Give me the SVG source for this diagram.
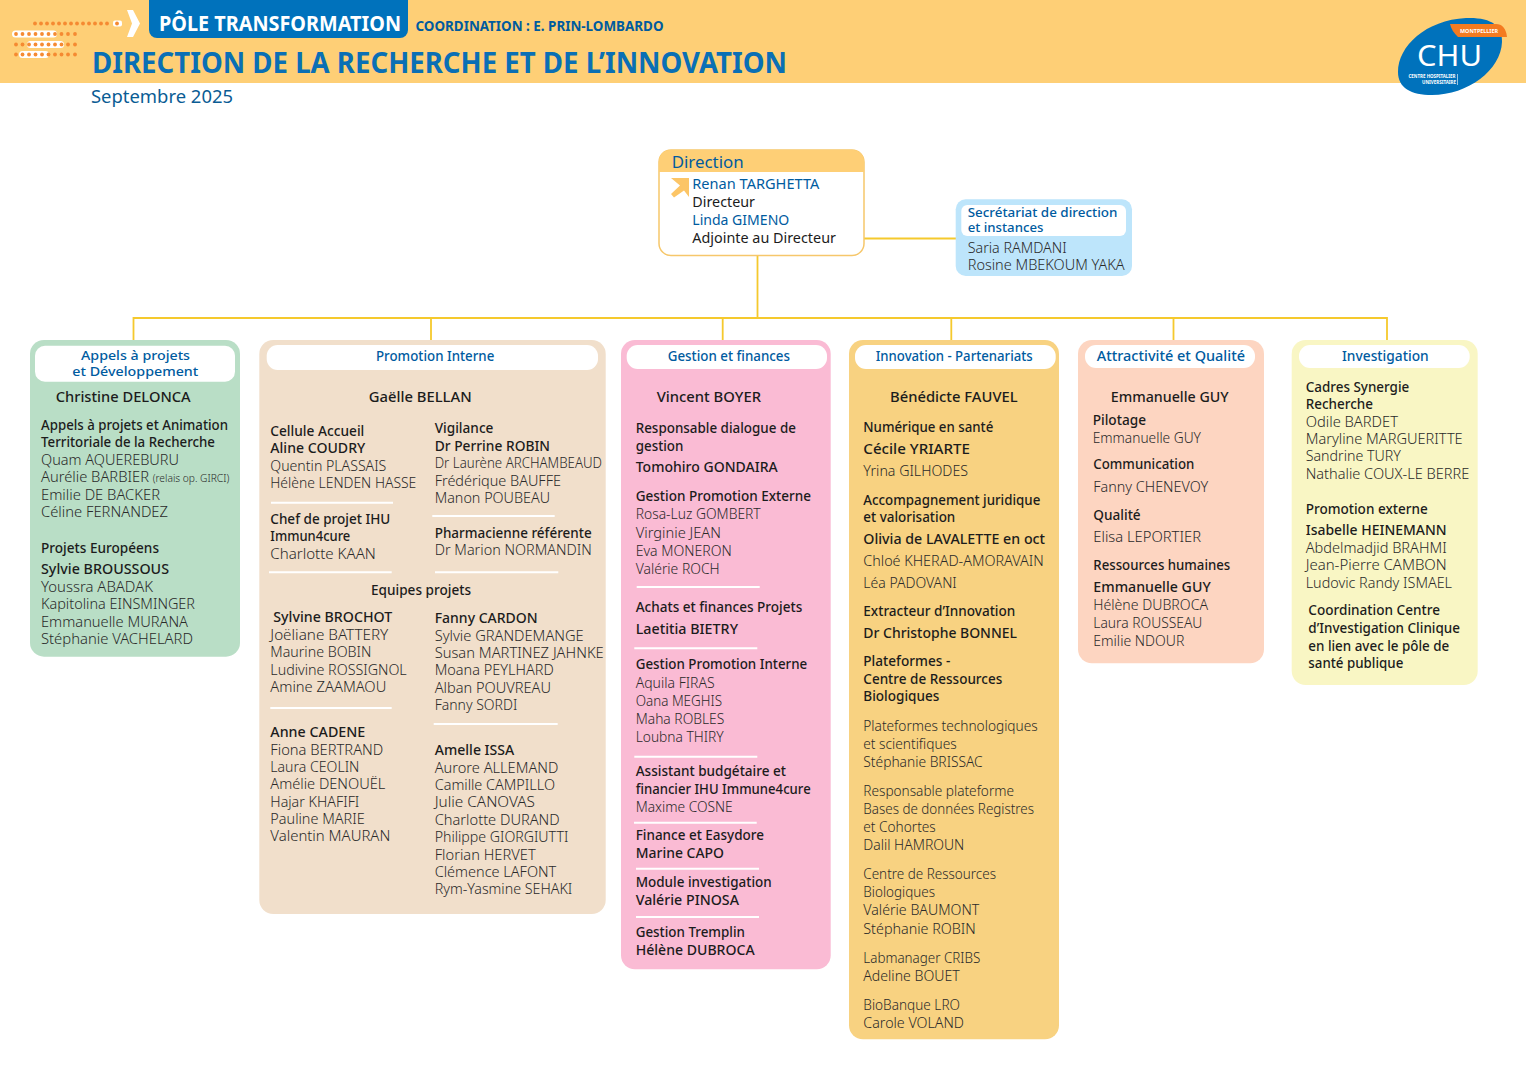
<svg xmlns="http://www.w3.org/2000/svg" width="1526" height="1080" viewBox="0 0 1526 1080">
<style>
text{font-family:"Noto Sans","Open Sans","Liberation Sans",sans-serif;font-size:14.5px;fill:#2a2a2a;font-weight:300}
.b{font-weight:500;fill:#1c1c1c}
.h{font-weight:500;fill:#005b9f}
.k{fill:#1c1c1c;font-weight:400}
.u{fill:#005b9f;font-weight:400}
.t{font-size:13.4px}
.sep{stroke:#fff;stroke-width:2;fill:none}
.cn{stroke:#f5c92d;stroke-width:1.800;fill:none}
.head{fill:#fff}
</style>
<g id="banner">
<rect x="0" y="0" width="1526" height="83" fill="#fecf76"/>
<path d="M149 0H408V30a8 8 0 0 1-8 8H157a8 8 0 0 1-8-8Z" fill="#0072bc"/>
<text x="159" y="31" textLength="242" lengthAdjust="spacingAndGlyphs" style="font-size:21px;font-weight:700;fill:#fff">PÔLE TRANSFORMATION</text>
<text x="415.500" y="31" textLength="248" lengthAdjust="spacingAndGlyphs" style="font-size:14.500px;font-weight:700;fill:#005b9f">COORDINATION : E. PRIN-LOMBARDO</text>
<text x="92" y="72.500" textLength="695" lengthAdjust="spacingAndGlyphs" style="font-size:28px;font-weight:700;fill:#0a6fb5">DIRECTION DE LA RECHERCHE ET DE L’INNOVATION</text>
<text x="91" y="103.300" textLength="142" lengthAdjust="spacingAndGlyphs" style="font-size:18px;font-weight:400;fill:#0a5c94">Septembre 2025</text>
<g fill="#fff"><rect x="12" y="30.500" width="45" height="7" rx="3.500"/><rect x="27" y="41" width="37" height="7" rx="3.500"/><rect x="19" y="51" width="30" height="7" rx="3.500"/><rect x="113" y="20.500" width="9" height="6" rx="2"/></g>
<path d="M127 10L133 10L140 23.500L133 37L127 37L132 23.500Z" fill="#fff"/>
<g fill="#f58a32">
<circle cx="35" cy="23.500" r="1.900"/><circle cx="41" cy="23.500" r="1.900"/><circle cx="47" cy="23.500" r="1.900"/><circle cx="53" cy="23.500" r="1.900"/><circle cx="59" cy="23.500" r="1.900"/><circle cx="65" cy="23.500" r="1.900"/><circle cx="71" cy="23.500" r="1.900"/><circle cx="77" cy="23.500" r="1.900"/><circle cx="83" cy="23.500" r="1.900"/><circle cx="89" cy="23.500" r="1.900"/><circle cx="95" cy="23.500" r="1.900"/><circle cx="101" cy="23.500" r="1.900"/><circle cx="107" cy="23.500" r="1.900"/><circle cx="117" cy="23.500" r="1.900"/>
<circle cx="16" cy="34" r="1.900"/><circle cx="22.500" cy="34" r="1.900"/><circle cx="29" cy="34" r="1.900"/><circle cx="35.500" cy="34" r="1.900"/><circle cx="42" cy="34" r="1.900"/><circle cx="48.500" cy="34" r="1.900"/><circle cx="55" cy="34" r="1.900"/><circle cx="61.500" cy="34" r="1.900"/><circle cx="68" cy="34" r="1.900"/><circle cx="75" cy="34" r="1.900"/>
<circle cx="16" cy="44.500" r="1.900"/><circle cx="22.500" cy="44.500" r="1.900"/><circle cx="29" cy="44.500" r="1.900"/><circle cx="35.500" cy="44.500" r="1.900"/><circle cx="42" cy="44.500" r="1.900"/><circle cx="48.500" cy="44.500" r="1.900"/><circle cx="55" cy="44.500" r="1.900"/><circle cx="61.500" cy="44.500" r="1.900"/><circle cx="68" cy="44.500" r="1.900"/><circle cx="75" cy="44.500" r="1.900"/>
<circle cx="16" cy="54.500" r="1.900"/><circle cx="22.500" cy="54.500" r="1.900"/><circle cx="29" cy="54.500" r="1.900"/><circle cx="35.500" cy="54.500" r="1.900"/><circle cx="42" cy="54.500" r="1.900"/><circle cx="48.500" cy="54.500" r="1.900"/><circle cx="55" cy="54.500" r="1.900"/><circle cx="61.500" cy="54.500" r="1.900"/><circle cx="68" cy="54.500" r="1.900"/><circle cx="75" cy="54.500" r="1.900"/>
</g>
</g>
<g id="logo">
<path d="M1398 72C1398 46 1426 20 1466 18C1490 17 1503 25 1502 42C1501 70 1468 95 1432 95C1411 95 1398 88 1398 72Z" fill="#0072bc"/>
<path d="M1450 24H1496C1502 24 1506 28 1507 37H1458C1454 33 1451 29 1450 24Z" fill="#f47b20"/>
<text x="1460" y="33" textLength="38" lengthAdjust="spacingAndGlyphs" style="font-size:5.500px;font-weight:700;fill:#fff">MONTPELLIER</text>
<text x="1417" y="66" textLength="65" lengthAdjust="spacingAndGlyphs" style="font-size:29px;font-weight:400;fill:#fff">CHU</text>
<text x="1408.500" y="78" textLength="47" lengthAdjust="spacingAndGlyphs" style="font-size:5.500px;font-weight:700;fill:#fff">CENTRE HOSPITALIER</text>
<text x="1422" y="84" textLength="34" lengthAdjust="spacingAndGlyphs" style="font-size:5.500px;font-weight:700;fill:#fff">UNIVERSITAIRE</text>
<path d="M1457.500 74V85" stroke="#fff" stroke-width=".6"/>
</g>
<g id="connectors">
<path class="cn" d="M864 238.500H956"/>
<path class="cn" d="M757.500 256V318"/>
<path class="cn" d="M133.500 340V318H1387V340"/>
<path class="cn" d="M431 318V340M722.700 318V340M951.300 318V340M1173.500 318V340"/>
</g>
<g id="direction">
<rect x="659" y="150" width="205" height="105.500" rx="12" fill="#fff" stroke="#f6c76b" stroke-width="1.500"/>
<path d="M659 172V161a11 11 0 0 1 11-11H853a11 11 0 0 1 11 11V172Z" fill="#fecf76"/>
<path d="M671 178H689V197L684 190.500L674 197.500L671 194L680 185.500Z" fill="#fcc566"/>
<text class="u" x="671.700" y="168" textLength="72" lengthAdjust="spacingAndGlyphs" style="font-size:17px">Direction</text>
<text class="u" x="692.300" y="189" textLength="127" lengthAdjust="spacingAndGlyphs">Renan TARGHETTA</text>
<text class="k" x="692.300" y="207.300" textLength="62.700" lengthAdjust="spacingAndGlyphs">Directeur</text>
<text class="u" x="692.300" y="224.700" textLength="97" lengthAdjust="spacingAndGlyphs">Linda GIMENO</text>
<text class="k" x="692.300" y="243" textLength="143.700" lengthAdjust="spacingAndGlyphs">Adjointe au Directeur</text>
</g>
<g id="secretariat">
<rect x="955.700" y="199.300" width="176.300" height="76.700" rx="10" fill="#bde5fb"/>
<rect class="head" x="961.300" y="205" width="164.700" height="31" rx="6"/>
<text class="h t" x="967.700" y="217.300" textLength="149.700" lengthAdjust="spacingAndGlyphs" style="font-size:12.600px">Secrétariat de direction</text>
<text class="h t" x="967.700" y="231.700" textLength="75.700" lengthAdjust="spacingAndGlyphs" style="font-size:12.600px">et instances</text>
<text x="967.700" y="252.700" textLength="99" lengthAdjust="spacingAndGlyphs">Saria RAMDANI</text>
<text x="967.700" y="270" textLength="157" lengthAdjust="spacingAndGlyphs">Rosine MBEKOUM YAKA</text>
</g>
<g id="appels">
<rect x="30" y="340" width="210" height="316.700" rx="14" fill="#b9dec6"/>
<rect class="head" x="35" y="345.700" width="200" height="36" rx="10"/>
<text class="h t" x="81" y="360" textLength="109" lengthAdjust="spacingAndGlyphs">Appels à projets</text>
<text class="h t" x="72.300" y="376" textLength="126" lengthAdjust="spacingAndGlyphs">et Développement</text>
<text class="b" x="55.700" y="401.700" textLength="135" lengthAdjust="spacingAndGlyphs">Christine DELONCA</text>
<text class="b" x="41" y="430" textLength="187" lengthAdjust="spacingAndGlyphs">Appels à projets et Animation</text>
<text class="b" x="41" y="447" textLength="174" lengthAdjust="spacingAndGlyphs">Territoriale de la Recherche</text>
<text x="41" y="465" textLength="138" lengthAdjust="spacingAndGlyphs">Quam AQUEREBURU</text>
<text x="41" y="482" textLength="108" lengthAdjust="spacingAndGlyphs">Aurélie BARBIER</text>
<text x="152.700" y="482" textLength="76.600" lengthAdjust="spacingAndGlyphs" style="font-size:11px">(relais op. GIRCI)</text>
<text x="41" y="500" textLength="119" lengthAdjust="spacingAndGlyphs">Emilie DE BACKER</text>
<text x="41" y="517" textLength="127" lengthAdjust="spacingAndGlyphs">Céline FERNANDEZ</text>
<text class="b" x="41" y="553" textLength="118" lengthAdjust="spacingAndGlyphs">Projets Européens</text>
<text class="b" x="41" y="574" textLength="128" lengthAdjust="spacingAndGlyphs">Sylvie BROUSSOUS</text>
<text x="41" y="592" textLength="112" lengthAdjust="spacingAndGlyphs">Youssra ABADAK</text>
<text x="41" y="609" textLength="154" lengthAdjust="spacingAndGlyphs">Kapitolina EINSMINGER</text>
<text x="41" y="627" textLength="147" lengthAdjust="spacingAndGlyphs">Emmanuelle MURANA</text>
<text x="41" y="644" textLength="152" lengthAdjust="spacingAndGlyphs">Stéphanie VACHELARD</text>
</g>
<g id="promotion-interne">
<rect x="259.300" y="340" width="346.400" height="574" rx="14" fill="#f1dfcb"/>
<rect class="head" x="266.700" y="345" width="331.300" height="25" rx="11"/>
<text class="h" x="376" y="361" textLength="118.300" lengthAdjust="spacingAndGlyphs">Promotion Interne</text>
<text class="b" x="368.700" y="402.300" textLength="103" lengthAdjust="spacingAndGlyphs">Gaëlle BELLAN</text>
<text class="b" x="270.300" y="436" textLength="94" lengthAdjust="spacingAndGlyphs">Cellule Accueil</text>
<text class="b" x="270.300" y="453.300" textLength="95" lengthAdjust="spacingAndGlyphs">Aline COUDRY</text>
<text x="270.300" y="471" textLength="116" lengthAdjust="spacingAndGlyphs">Quentin PLASSAIS</text>
<text x="270.300" y="488.300" textLength="146" lengthAdjust="spacingAndGlyphs">Hélène LENDEN HASSE</text>
<path class="sep" d="M271 502.700H393"/>
<text class="b" x="270.300" y="524" textLength="120" lengthAdjust="spacingAndGlyphs">Chef de projet IHU</text>
<text class="b" x="270.300" y="541" textLength="80" lengthAdjust="spacingAndGlyphs">Immun4cure</text>
<text x="270.300" y="559" textLength="105.500" lengthAdjust="spacingAndGlyphs">Charlotte KAAN</text>
<path class="sep" d="M269 572.300H391.700"/>
<text class="b" x="371" y="595.300" textLength="100" lengthAdjust="spacingAndGlyphs">Equipes projets</text>
<text class="b" x="273.300" y="622.300" textLength="119" lengthAdjust="spacingAndGlyphs">Sylvine BROCHOT</text>
<text x="270.300" y="640" textLength="118" lengthAdjust="spacingAndGlyphs">Joëliane BATTERY</text>
<text x="270.300" y="657.300" textLength="101" lengthAdjust="spacingAndGlyphs">Maurine BOBIN</text>
<text x="270.300" y="674.700" textLength="136.400" lengthAdjust="spacingAndGlyphs">Ludivine ROSSIGNOL</text>
<text x="270.300" y="692" textLength="116" lengthAdjust="spacingAndGlyphs">Amine ZAAMAOU</text>
<path class="sep" d="M270.300 708H391.700"/>
<text class="b" x="270.300" y="737" textLength="95" lengthAdjust="spacingAndGlyphs">Anne CADENE</text>
<text x="270.300" y="754.700" textLength="113" lengthAdjust="spacingAndGlyphs">Fiona BERTRAND</text>
<text x="270.300" y="772" textLength="89" lengthAdjust="spacingAndGlyphs">Laura CEOLIN</text>
<text x="270.300" y="789.300" textLength="115" lengthAdjust="spacingAndGlyphs">Amélie DENOUËL</text>
<text x="270.300" y="806.700" textLength="89" lengthAdjust="spacingAndGlyphs">Hajar KHAFIFI</text>
<text x="270.300" y="824" textLength="94.400" lengthAdjust="spacingAndGlyphs">Pauline MARIE</text>
<text x="270.300" y="841.300" textLength="120" lengthAdjust="spacingAndGlyphs">Valentin MAURAN</text>
<text class="b" x="434.700" y="432.700" textLength="58.700" lengthAdjust="spacingAndGlyphs">Vigilance</text>
<text class="b" x="434.700" y="450.700" textLength="115.300" lengthAdjust="spacingAndGlyphs">Dr Perrine ROBIN</text>
<text x="434.700" y="468.300" textLength="167.300" lengthAdjust="spacingAndGlyphs">Dr Laurène ARCHAMBEAUD</text>
<text x="434.700" y="485.700" textLength="126.300" lengthAdjust="spacingAndGlyphs">Frédérique BAUFFE</text>
<text x="434.700" y="503" textLength="115.300" lengthAdjust="spacingAndGlyphs">Manon POUBEAU</text>
<path class="sep" d="M432.300 516H554.700"/>
<text class="b" x="434.700" y="538" textLength="157" lengthAdjust="spacingAndGlyphs">Pharmacienne référente</text>
<text x="434.700" y="555.300" textLength="157" lengthAdjust="spacingAndGlyphs">Dr Marion NORMANDIN</text>
<path class="sep" d="M435 572.300H558.300"/>
<text class="b" x="434.700" y="623" textLength="103" lengthAdjust="spacingAndGlyphs">Fanny CARDON</text>
<text x="434.700" y="640.700" textLength="149" lengthAdjust="spacingAndGlyphs">Sylvie GRANDEMANGE</text>
<text x="434.700" y="658" textLength="169" lengthAdjust="spacingAndGlyphs">Susan MARTINEZ JAHNKE</text>
<text x="434.700" y="675.300" textLength="119" lengthAdjust="spacingAndGlyphs">Moana PEYLHARD</text>
<text x="434.700" y="692.700" textLength="116.300" lengthAdjust="spacingAndGlyphs">Alban POUVREAU</text>
<text x="434.700" y="710.300" textLength="82.600" lengthAdjust="spacingAndGlyphs">Fanny SORDI</text>
<path class="sep" d="M433.700 724H557.700"/>
<text class="b" x="434.700" y="755.300" textLength="79.600" lengthAdjust="spacingAndGlyphs">Amelle ISSA</text>
<text x="434.700" y="772.700" textLength="123.600" lengthAdjust="spacingAndGlyphs">Aurore ALLEMAND</text>
<text x="434.700" y="790" textLength="120.300" lengthAdjust="spacingAndGlyphs">Camille CAMPILLO</text>
<text x="434.700" y="807.300" textLength="100.300" lengthAdjust="spacingAndGlyphs">Julie CANOVAS</text>
<text x="434.700" y="825" textLength="125" lengthAdjust="spacingAndGlyphs">Charlotte DURAND</text>
<text x="434.700" y="842.300" textLength="133.600" lengthAdjust="spacingAndGlyphs">Philippe GIORGIUTTI</text>
<text x="434.700" y="859.700" textLength="101" lengthAdjust="spacingAndGlyphs">Florian HERVET</text>
<text x="434.700" y="877" textLength="121.600" lengthAdjust="spacingAndGlyphs">Clémence LAFONT</text>
<text x="434.700" y="894.300" textLength="137.600" lengthAdjust="spacingAndGlyphs">Rym-Yasmine SEHAKI</text>
</g>
<g id="gestion-finances">
<rect x="621" y="340" width="209.700" height="629.300" rx="14" fill="#fabbd4"/>
<rect class="head" x="626.700" y="345" width="200.300" height="24" rx="11"/>
<text class="h" x="667.700" y="361" textLength="122.300" lengthAdjust="spacingAndGlyphs">Gestion et finances</text>
<text class="b" x="656.700" y="402.300" textLength="104.300" lengthAdjust="spacingAndGlyphs">Vincent BOYER</text>
<text class="b" x="635.700" y="433.300" textLength="160.300" lengthAdjust="spacingAndGlyphs">Responsable dialogue de</text>
<text class="b" x="635.700" y="450.700" textLength="47.700" lengthAdjust="spacingAndGlyphs">gestion</text>
<text class="b" x="635.700" y="472.300" textLength="142" lengthAdjust="spacingAndGlyphs">Tomohiro GONDAIRA</text>
<text class="b" x="635.700" y="501.300" textLength="175.300" lengthAdjust="spacingAndGlyphs">Gestion Promotion Externe</text>
<text x="635.700" y="519.300" textLength="125" lengthAdjust="spacingAndGlyphs">Rosa-Luz GOMBERT</text>
<text x="635.700" y="537.700" textLength="85.300" lengthAdjust="spacingAndGlyphs">Virginie JEAN</text>
<text x="635.700" y="556" textLength="96" lengthAdjust="spacingAndGlyphs">Eva MONERON</text>
<text x="635.700" y="574" textLength="84" lengthAdjust="spacingAndGlyphs">Valérie ROCH</text>
<path class="sep" d="M636.700 587H759.700"/>
<text class="b" x="635.700" y="611.700" textLength="166.600" lengthAdjust="spacingAndGlyphs">Achats et finances Projets</text>
<text class="b" x="635.700" y="633.700" textLength="102.300" lengthAdjust="spacingAndGlyphs">Laetitia BIETRY</text>
<path class="sep" d="M634.300 648.300H757.300"/>
<text class="b" x="635.700" y="669" textLength="171.600" lengthAdjust="spacingAndGlyphs">Gestion Promotion Interne</text>
<text x="635.700" y="687.700" textLength="79" lengthAdjust="spacingAndGlyphs">Aquila FIRAS</text>
<text x="635.700" y="705.700" textLength="86.300" lengthAdjust="spacingAndGlyphs">Oana MEGHIS</text>
<text x="635.700" y="724" textLength="88.600" lengthAdjust="spacingAndGlyphs">Maha ROBLES</text>
<text x="635.700" y="742.300" textLength="88" lengthAdjust="spacingAndGlyphs">Loubna THIRY</text>
<path class="sep" d="M634.300 756.700H757.300"/>
<text class="b" x="635.700" y="776" textLength="150.300" lengthAdjust="spacingAndGlyphs">Assistant budgétaire et</text>
<text class="b" x="635.700" y="793.700" textLength="175" lengthAdjust="spacingAndGlyphs">financier IHU Immune4cure</text>
<text x="635.700" y="812" textLength="97" lengthAdjust="spacingAndGlyphs">Maxime COSNE</text>
<path class="sep" d="M634 822.700H756.700"/>
<text class="b" x="635.700" y="840.300" textLength="128.300" lengthAdjust="spacingAndGlyphs">Finance et Easydore</text>
<text class="b" x="635.700" y="858" textLength="88.300" lengthAdjust="spacingAndGlyphs">Marine CAPO</text>
<path class="sep" d="M636 868.700H759"/>
<text class="b" x="635.700" y="886.700" textLength="136" lengthAdjust="spacingAndGlyphs">Module investigation</text>
<text class="b" x="635.700" y="905" textLength="103.300" lengthAdjust="spacingAndGlyphs">Valérie PINOSA</text>
<path class="sep" d="M636 917H759"/>
<text class="b" x="635.700" y="937.300" textLength="109.300" lengthAdjust="spacingAndGlyphs">Gestion Tremplin</text>
<text class="b" x="635.700" y="955.300" textLength="119" lengthAdjust="spacingAndGlyphs">Hélène DUBROCA</text>
</g>
<g id="innovation">
<rect x="849" y="340" width="210" height="699.300" rx="14" fill="#f8d281"/>
<rect class="head" x="855" y="345" width="200.700" height="24" rx="11"/>
<text class="h" x="875.700" y="361" textLength="157" lengthAdjust="spacingAndGlyphs">Innovation - Partenariats</text>
<text class="b" x="890" y="402.300" textLength="127.700" lengthAdjust="spacingAndGlyphs">Bénédicte FAUVEL</text>
<text class="b" x="863.300" y="432.300" textLength="130" lengthAdjust="spacingAndGlyphs">Numérique en santé</text>
<text class="b" x="863.300" y="454.300" textLength="106.700" lengthAdjust="spacingAndGlyphs">Cécile YRIARTE</text>
<text x="863.300" y="476" textLength="104.700" lengthAdjust="spacingAndGlyphs">Yrina GILHODES</text>
<text class="b" x="863.300" y="505" textLength="177" lengthAdjust="spacingAndGlyphs">Accompagnement juridique</text>
<text class="b" x="863.300" y="522" textLength="92" lengthAdjust="spacingAndGlyphs">et valorisation</text>
<text class="b" x="863.300" y="544" textLength="181.700" lengthAdjust="spacingAndGlyphs">Olivia de LAVALETTE en oct</text>
<text x="863.300" y="565.700" textLength="180.400" lengthAdjust="spacingAndGlyphs">Chloé KHERAD-AMORAVAIN</text>
<text x="863.300" y="587.700" textLength="93.400" lengthAdjust="spacingAndGlyphs">Léa PADOVANI</text>
<text class="b" x="863.300" y="616.300" textLength="152" lengthAdjust="spacingAndGlyphs">Extracteur d’Innovation</text>
<text class="b" x="863.300" y="638" textLength="153.700" lengthAdjust="spacingAndGlyphs">Dr Christophe BONNEL</text>
<text class="b" x="863.300" y="666.300" textLength="87" lengthAdjust="spacingAndGlyphs">Plateformes -</text>
<text class="b" x="863.300" y="683.700" textLength="139" lengthAdjust="spacingAndGlyphs">Centre de Ressources</text>
<text class="b" x="863.300" y="701" textLength="76" lengthAdjust="spacingAndGlyphs">Biologiques</text>
<text x="863.300" y="731" textLength="174.400" lengthAdjust="spacingAndGlyphs">Plateformes technologiques</text>
<text x="863.300" y="748.700" textLength="93.400" lengthAdjust="spacingAndGlyphs">et scientifiques</text>
<text x="863.300" y="766.700" textLength="119.400" lengthAdjust="spacingAndGlyphs">Stéphanie BRISSAC</text>
<text x="863.300" y="796" textLength="150.700" lengthAdjust="spacingAndGlyphs">Responsable plateforme</text>
<text x="863.300" y="814" textLength="170.700" lengthAdjust="spacingAndGlyphs">Bases de données Registres</text>
<text x="863.300" y="832" textLength="72.400" lengthAdjust="spacingAndGlyphs">et Cohortes</text>
<text x="863.300" y="850" textLength="101" lengthAdjust="spacingAndGlyphs">Dalil HAMROUN</text>
<text x="863.300" y="879" textLength="132.700" lengthAdjust="spacingAndGlyphs">Centre de Ressources</text>
<text x="863.300" y="897" textLength="71.700" lengthAdjust="spacingAndGlyphs">Biologiques</text>
<text x="863.300" y="915.300" textLength="116" lengthAdjust="spacingAndGlyphs">Valérie BAUMONT</text>
<text x="863.300" y="933.700" textLength="112.400" lengthAdjust="spacingAndGlyphs">Stéphanie ROBIN</text>
<text x="863.300" y="962.700" textLength="117" lengthAdjust="spacingAndGlyphs">Labmanager CRIBS</text>
<text x="863.300" y="980.700" textLength="96.400" lengthAdjust="spacingAndGlyphs">Adeline BOUET</text>
<text x="863.300" y="1010" textLength="96.700" lengthAdjust="spacingAndGlyphs">BioBanque LRO</text>
<text x="863.300" y="1028" textLength="100.700" lengthAdjust="spacingAndGlyphs">Carole VOLAND</text>
</g>
<g id="attractivite">
<rect x="1078" y="340" width="186" height="323.300" rx="14" fill="#fdd5c1"/>
<rect class="head" x="1085" y="345" width="170" height="23" rx="11"/>
<text class="h" x="1096.700" y="361" textLength="148.300" lengthAdjust="spacingAndGlyphs">Attractivité et Qualité</text>
<text class="b" x="1110.700" y="402.300" textLength="118" lengthAdjust="spacingAndGlyphs">Emmanuelle GUY</text>
<text class="b" x="1092.700" y="424.500" textLength="53.300" lengthAdjust="spacingAndGlyphs">Pilotage</text>
<text x="1092.700" y="442.700" textLength="108.300" lengthAdjust="spacingAndGlyphs">Emmanuelle GUY</text>
<text class="b" x="1093.300" y="469.300" textLength="101" lengthAdjust="spacingAndGlyphs">Communication</text>
<text x="1093.300" y="491.700" textLength="115" lengthAdjust="spacingAndGlyphs">Fanny CHENEVOY</text>
<text class="b" x="1093.300" y="520" textLength="47.400" lengthAdjust="spacingAndGlyphs">Qualité</text>
<text x="1093.300" y="542" textLength="107.700" lengthAdjust="spacingAndGlyphs">Elisa LEPORTIER</text>
<text class="b" x="1093.300" y="570" textLength="137" lengthAdjust="spacingAndGlyphs">Ressources humaines</text>
<text class="b" x="1093.300" y="591.700" textLength="117.400" lengthAdjust="spacingAndGlyphs">Emmanuelle GUY</text>
<text x="1093.300" y="610" textLength="114.700" lengthAdjust="spacingAndGlyphs">Hélène DUBROCA</text>
<text x="1093.300" y="628.300" textLength="109" lengthAdjust="spacingAndGlyphs">Laura ROUSSEAU</text>
<text x="1093.300" y="646.300" textLength="91" lengthAdjust="spacingAndGlyphs">Emilie NDOUR</text>
</g>
<g id="investigation">
<rect x="1291.700" y="340" width="186" height="345" rx="14" fill="#f9f6c4"/>
<rect class="head" x="1299" y="345" width="170.700" height="23" rx="11"/>
<text class="h" x="1342" y="361" textLength="86.700" lengthAdjust="spacingAndGlyphs">Investigation</text>
<text class="b" x="1305.700" y="391.700" textLength="103.600" lengthAdjust="spacingAndGlyphs">Cadres Synergie</text>
<text class="b" x="1305.700" y="409" textLength="67.300" lengthAdjust="spacingAndGlyphs">Recherche</text>
<text x="1305.700" y="426.700" textLength="92.300" lengthAdjust="spacingAndGlyphs">Odile BARDET</text>
<text x="1305.700" y="444" textLength="157" lengthAdjust="spacingAndGlyphs">Maryline MARGUERITTE</text>
<text x="1305.700" y="461.300" textLength="95.300" lengthAdjust="spacingAndGlyphs">Sandrine TURY</text>
<text x="1305.700" y="478.700" textLength="163.600" lengthAdjust="spacingAndGlyphs">Nathalie COUX-LE BERRE</text>
<text class="b" x="1305.700" y="513.700" textLength="122" lengthAdjust="spacingAndGlyphs">Promotion externe</text>
<text class="b" x="1305.700" y="535" textLength="141" lengthAdjust="spacingAndGlyphs">Isabelle HEINEMANN</text>
<text x="1305.700" y="553" textLength="141" lengthAdjust="spacingAndGlyphs">Abdelmadjid BRAHMI</text>
<text x="1305.700" y="570.300" textLength="141" lengthAdjust="spacingAndGlyphs">Jean-Pierre CAMBON</text>
<text x="1305.700" y="587.700" textLength="146.300" lengthAdjust="spacingAndGlyphs">Ludovic Randy ISMAEL</text>
<text class="b" x="1308.300" y="615" textLength="131.700" lengthAdjust="spacingAndGlyphs">Coordination Centre</text>
<text class="b" x="1308.300" y="632.700" textLength="151.700" lengthAdjust="spacingAndGlyphs">d’Investigation Clinique</text>
<text class="b" x="1308.300" y="650.700" textLength="141" lengthAdjust="spacingAndGlyphs">en lien avec le pôle de</text>
<text class="b" x="1308.300" y="668" textLength="95" lengthAdjust="spacingAndGlyphs">santé publique</text>
</g>
</svg>
